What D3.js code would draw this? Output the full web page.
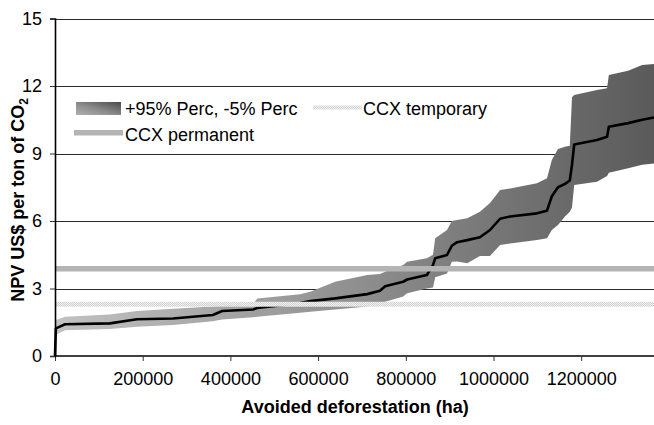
<!DOCTYPE html>
<html>
<head>
<meta charset="utf-8">
<script src="https://cdn.jsdelivr.net/npm/d3@7"></script>
<style>
  body { margin: 0; background: #fff; }
  svg { display: block; font-family: "Liberation Sans", Arial, sans-serif; }
</style>
</head>
<body>
<div id="chart"></div>
<script>
// avoided deforestation (ha), cumulative
const xHa = [0, 2000, 23000, 125000, 187000, 269000, 360000, 381000, 452000, 461000,
  559000, 582000, 639000, 712000, 741000, 753000, 794000, 803000, 848000, 862000,
  867000, 894000, 905000, 917000, 940000, 969000, 992000, 1015000, 1038000, 1099000,
  1122000, 1133000, 1147000, 1163000, 1174000, 1179000, 1184000, 1236000, 1259000, 1263000,
  1307000, 1339000, 1366000];
// NPV US$ per ton of CO2
const median = [0, 1.23, 1.41, 1.45, 1.63, 1.67, 1.82, 2.0, 2.07, 2.13,
  2.35, 2.44, 2.56, 2.75, 2.9, 3.1, 3.3, 3.4, 3.6, 4.04,
  4.34, 4.49, 4.9, 5.06, 5.15, 5.28, 5.6, 6.1, 6.2, 6.34,
  6.46, 7.1, 7.5, 7.65, 7.8, 8.5, 9.4, 9.6, 9.74, 10.19,
  10.35, 10.5, 10.6];
const lower = [0.9, 0.95, 1.15, 1.2, 1.3, 1.38, 1.55, 1.62, 1.72, 1.75,
  1.92, 1.97, 2.07, 2.2, 2.3, 2.41, 2.64, 2.79, 3.0, 3.05,
  3.5, 3.67, 4.19, 4.2, 4.12, 4.45, 4.45, 4.93, 5.0, 5.16,
  5.23, 5.6, 5.82, 6.2, 6.41, 6.6, 7.6, 7.75, 8.0, 8.15,
  8.34, 8.5, 8.56];
const upper = [1.5, 1.6, 1.75, 1.85, 2.0, 2.1, 2.2, 2.27, 2.3, 2.56,
  2.75, 2.86, 3.3, 3.6, 3.65, 3.75, 4.05, 4.19, 4.34, 4.5,
  5.23, 5.6, 6.0, 6.05, 6.12, 6.41, 6.8, 7.38, 7.45, 7.68,
  7.9, 8.71, 9.2, 9.3, 9.35, 11.5, 11.6, 11.82, 11.9, 12.49,
  12.68, 12.93, 12.98];
const ccxPermanent = 3.88;
const ccxTemporary = 2.3;

const xTicks = [0, 200000, 400000, 600000, 800000, 1000000, 1200000];
const yTicks = [0, 3, 6, 9, 12, 15];

const W = 654, H = 425;
const margin = { top: 18.5, right: 0, bottom: 69, left: 55 };

const svg = d3.select('#chart').append('svg')
  .attr('width', W)
  .attr('height', H);

const defs = svg.append('defs');
const grad = defs.append('linearGradient')
  .attr('id', 'bandGrad')
  .attr('gradientUnits', 'userSpaceOnUse')
  .attr('x1', margin.left).attr('x2', W).attr('y1', 0).attr('y2', 0);
grad.append('stop').attr('offset', '0%').attr('stop-color', '#c2c2c2');
grad.append('stop').attr('offset', '55%').attr('stop-color', '#8a8a8a');
grad.append('stop').attr('offset', '100%').attr('stop-color', '#5a5a5a');

const sw = defs.append('linearGradient')
  .attr('id', 'swatchGrad')
  .attr('x1', '0%').attr('x2', '100%').attr('y1', '100%').attr('y2', '0%');
sw.append('stop').attr('offset', '0%').attr('stop-color', '#b0b0b0');
sw.append('stop').attr('offset', '45%').attr('stop-color', '#8c8c8c');
sw.append('stop').attr('offset', '100%').attr('stop-color', '#4a4a4a');

const pat = defs.append('pattern')
  .attr('id', 'tmpPat')
  .attr('patternUnits', 'userSpaceOnUse')
  .attr('width', 2).attr('height', 2);
pat.append('rect').attr('width', 2).attr('height', 2).attr('fill', '#f0f0f0');
pat.append('rect').attr('width', 1).attr('height', 1).attr('fill', '#d2d2d2');
pat.append('rect').attr('x', 1).attr('y', 1).attr('width', 1).attr('height', 1).attr('fill', '#d2d2d2');

const x = d3.scaleLinear()
  .domain([0, 1366000])
  .range([margin.left, W - margin.right]);

const y = d3.scaleLinear()
  .domain([0, 15])
  .range([H - margin.bottom, margin.top]);

// gridlines
svg.append('g')
  .selectAll('line')
  .data(yTicks.filter(d => d > 0))
  .enter().append('line')
  .attr('x1', margin.left).attr('x2', W)
  .attr('y1', d => Math.round(y(d)) + 0.5).attr('y2', d => Math.round(y(d)) + 0.5)
  .attr('stroke', '#2a2a2a')
  .attr('stroke-width', 1);

const pts = xHa.map((d, i) => ({ x: d, m: median[i], lo: lower[i], hi: upper[i] }));

// percentile band
svg.append('path')
  .datum(pts)
  .attr('fill', 'url(#bandGrad)')
  .attr('d', d3.area()
    .x(d => x(d.x))
    .y0(d => y(d.lo))
    .y1(d => y(d.hi)));

// median line
svg.append('path')
  .datum(pts)
  .attr('fill', 'none')
  .attr('stroke', '#000')
  .attr('stroke-width', 2.6)
  .attr('stroke-linejoin', 'round')
  .attr('d', d3.line()
    .x(d => x(d.x))
    .y(d => y(d.m)));

// CCX prices
svg.append('line')
  .attr('x1', margin.left).attr('x2', W)
  .attr('y1', y(ccxTemporary)).attr('y2', y(ccxTemporary))
  .attr('stroke', 'url(#tmpPat)')
  .attr('stroke-width', 5);

svg.append('line')
  .attr('x1', margin.left).attr('x2', W)
  .attr('y1', y(ccxPermanent)).attr('y2', y(ccxPermanent))
  .attr('stroke', '#b4b4b4')
  .attr('stroke-width', 5.5);

// axes
const xAxis = d3.axisBottom(x)
  .tickValues(xTicks)
  .tickSize(5)
  .tickPadding(11)
  .tickFormat(d3.format('d'));

const yAxis = d3.axisLeft(y)
  .tickValues(yTicks)
  .tickSize(5)
  .tickPadding(8)
  .tickFormat(d3.format('d'));

const gx = svg.append('g')
  .attr('transform', 'translate(0,' + (H - margin.bottom) + ')')
  .call(xAxis);

const gy = svg.append('g')
  .attr('transform', 'translate(' + margin.left + ',0)')
  .call(yAxis);

[gx, gy].forEach(g => {
  g.select('.domain').attr('stroke', '#000').attr('stroke-width', 1.6);
  g.selectAll('.tick line').attr('stroke', '#333');
  g.selectAll('.tick text')
    .attr('fill', '#000')
    .style('font-size', '18px')
    .style('font-family', '"Liberation Sans", Arial, sans-serif');
});
gx.select('.domain').attr('d', 'M' + margin.left + ',0H' + W);

// axis titles
svg.append('text')
  .attr('x', 355)
  .attr('y', 413)
  .attr('text-anchor', 'middle')
  .style('font-size', '18px')
  .style('font-weight', 'bold')
  .text('Avoided deforestation (ha)');

const yt = svg.append('text')
  .attr('transform', 'translate(24,200) rotate(-90)')
  .attr('text-anchor', 'middle')
  .style('font-size', '18px')
  .style('font-weight', 'bold');
yt.append('tspan').text('NPV US$ per ton of CO');
yt.append('tspan').attr('dy', 4).style('font-size', '12px').text('2');

// legend
const lg = svg.append('g').style('font-size', '18px');
lg.append('rect')
  .attr('x', 76).attr('y', 102).attr('width', 45).attr('height', 13)
  .attr('fill', 'url(#swatchGrad)');
lg.append('text').attr('x', 125).attr('y', 115).text('+95% Perc, -5% Perc');

lg.append('rect')
  .attr('x', 313).attr('y', 105.5).attr('width', 49).attr('height', 4)
  .attr('fill', 'url(#tmpPat)');
lg.append('text').attr('x', 363).attr('y', 115).text('CCX temporary');

lg.append('rect')
  .attr('x', 74).attr('y', 130).attr('width', 49).attr('height', 5.5)
  .attr('fill', '#b4b4b4');
lg.append('text').attr('x', 125).attr('y', 141).text('CCX permanent');
</script>
</body>
</html>
